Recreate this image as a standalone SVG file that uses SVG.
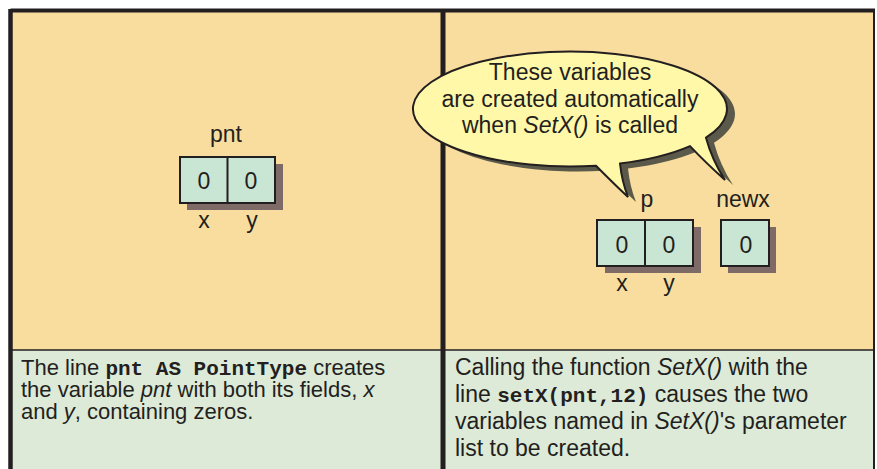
<svg xmlns="http://www.w3.org/2000/svg" width="877" height="469" viewBox="0 0 877 469">
  <defs>
    <style>
      .txt { font-family: "Liberation Sans", Arial, sans-serif; font-size: 23px; fill: #231F20; }
      .small { font-size: 22px; }
      .mid { text-anchor: middle; }
      .it { font-style: italic; }
      .code { font-family: "Liberation Mono", "Courier New", monospace; font-weight: bold; font-size: 21px; }
      .cell { fill: #C9E5D3; stroke: #231F20; stroke-width: 2; }
      .shadow { fill: #7E6A66; }
      .frame { stroke: #231F20; fill: none; }
    </style>
  </defs>

  <!-- page background -->
  <rect x="0" y="0" width="877" height="469" fill="#FFFFFF"/>

  <!-- panel fills -->
  <rect x="10" y="11" width="865" height="339" fill="#F9DD9F"/>
  <rect x="10" y="350" width="865" height="119" fill="#DDEAD7"/>

  <!-- frame -->
  <g id="frame">
    <line class="frame" x1="10.5" y1="10.5" x2="875" y2="10.5" stroke-width="4"/>
    <line class="frame" x1="10.5" y1="9" x2="10.5" y2="469" stroke-width="4.5"/>
    <line class="frame" x1="874" y1="9" x2="874" y2="469" stroke-width="2"/>
    <line class="frame" x1="443" y1="9" x2="443" y2="469" stroke-width="5"/>
    <line class="frame" x1="12" y1="350" x2="874" y2="350" stroke-width="1.5"/>
  </g>

  <!-- left panel: pnt record -->
  <g id="pnt">
    <rect class="shadow" x="187" y="164" width="96" height="46"/>
    <rect class="cell" x="180" y="157" width="95" height="46"/>
    <line x1="227.5" y1="157" x2="227.5" y2="203" stroke="#231F20" stroke-width="2"/>
    <text class="txt mid" x="226" y="142">pnt</text>
    <text class="txt mid" x="204" y="189">0</text>
    <text class="txt mid" x="251" y="189">0</text>
    <text class="txt mid" x="204" y="228">x</text>
    <text class="txt mid" x="252" y="228">y</text>
  </g>

  <!-- right panel: parameter p -->
  <g id="p">
    <rect class="shadow" x="605" y="227" width="96" height="46"/>
    <rect class="cell" x="597" y="220" width="96" height="46"/>
    <line x1="645" y1="220" x2="645" y2="266" stroke="#231F20" stroke-width="2"/>
    <text class="txt mid" x="647" y="207">p</text>
    <text class="txt mid" x="622" y="253">0</text>
    <text class="txt mid" x="669" y="253">0</text>
    <text class="txt mid" x="622" y="291">x</text>
    <text class="txt mid" x="669" y="291">y</text>
  </g>

  <!-- right panel: parameter newx -->
  <g id="newx">
    <rect class="shadow" x="728" y="227" width="48" height="46"/>
    <rect class="cell" x="721" y="220" width="48" height="46"/>
    <text class="txt mid" x="743" y="207">newx</text>
    <text class="txt mid" x="746" y="253">0</text>
  </g>

  <!-- speech bubble with two tails -->
  <g id="bubble">
    <path transform="translate(8,5)" fill="#5B594A"
          d="M596,165.7 A157,57.5 0 1 1 706,137.7 Q712,160 725,180 Q705,162 690,146.1 A157,57.5 0 0 1 620,163.5 Q622,182 628,197 Q610,180 596,165.7 Z"/>
    <path fill="#FFF8A9" stroke="#231F20" stroke-width="2" stroke-linejoin="miter"
          d="M596,165.7 A157,57.5 0 1 1 706,137.7 Q712,160 725,180 Q705,162 690,146.1 A157,57.5 0 0 1 620,163.5 Q622,182 628,197 Q610,180 596,165.7 Z"/>
    <text class="txt mid" x="570" y="80">These variables</text>
    <text class="txt mid" x="570" y="107">are created automatically</text>
    <text class="txt mid" x="570" y="133">when <tspan class="it">SetX()</tspan> is called</text>
  </g>

  <!-- captions -->
  <g id="caption-left">
    <text class="txt small" x="21" y="375">The line <tspan class="code">pnt AS PointType</tspan> creates</text>
    <text class="txt small" x="21" y="397">the variable <tspan class="it">pnt</tspan> with both its fields, <tspan class="it">x</tspan></text>
    <text class="txt small" x="21" y="419">and <tspan class="it">y</tspan>, containing zeros.</text>
  </g>
  <g id="caption-right">
    <text class="txt" x="455" y="375">Calling the function <tspan class="it">SetX()</tspan> with the</text>
    <text class="txt" x="455" y="402">line <tspan class="code">setX(pnt,12)</tspan> causes the two</text>
    <text class="txt" x="455" y="429">variables named in <tspan class="it">SetX()</tspan>'s parameter</text>
    <text class="txt" x="455" y="456">list to be created.</text>
  </g>
</svg>
